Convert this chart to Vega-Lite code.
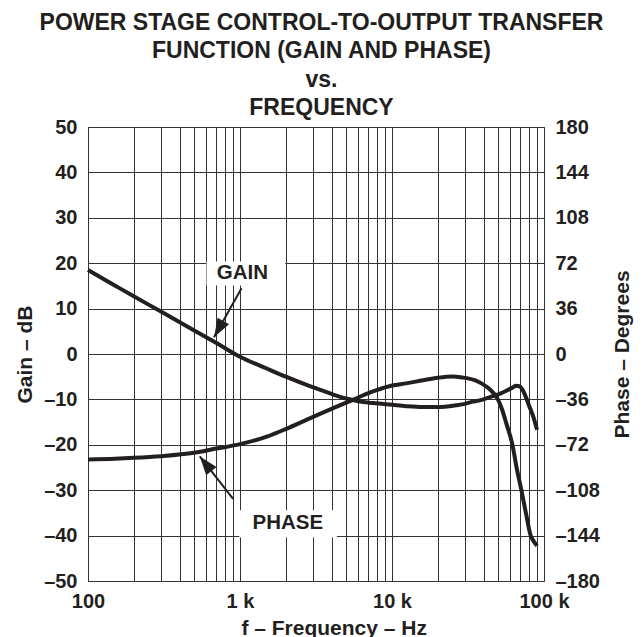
{
  "$schema": "https://vega.github.io/schema/vega-lite/v6.json",
  "width": 456,
  "height": 454,
  "autosize": {"type": "none"},
  "padding": {"left": 88, "top": 127, "right": 99, "bottom": 56},
  "background": "white",
  "title": {
    "text": ["POWER STAGE CONTROL-TO-OUTPUT TRANSFER", "FUNCTION (GAIN AND PHASE)", "vs.", "FREQUENCY"],
    "font": "Liberation Sans",
    "fontSize": 23,
    "fontWeight": "bold",
    "color": "#231f20",
    "lineHeight": 28.3,
    "anchor": "middle",
    "dx": 5.5,
    "offset": -3
  },
  "config": {
    "view": {"stroke": "#333333", "strokeWidth": 1},
    "axis": {
      "labelFont": "Liberation Sans",
      "labelFontSize": 20,
      "labelFontWeight": "bold",
      "labelColor": "#231f20",
      "titleFont": "Liberation Sans",
      "titleFontSize": 21,
      "titleFontWeight": "bold",
      "titleColor": "#231f20",
      "ticks": false,
      "tickSize": 0,
      "domain": false,
      "labelOverlap": false,
      "labelFlush": false,
      "labelBound": false
    }
  },
  "datasets": {
    "gain": [
      {"f": 100, "gain": 18.5}, {"f": 150, "gain": 15.1}, {"f": 200, "gain": 12.7},
      {"f": 300, "gain": 9.4}, {"f": 500, "gain": 5.2}, {"f": 700, "gain": 2.4},
      {"f": 1000, "gain": -0.6}, {"f": 1500, "gain": -3.2}, {"f": 2000, "gain": -5.0},
      {"f": 3000, "gain": -7.3}, {"f": 4000, "gain": -8.8}, {"f": 5000, "gain": -9.8},
      {"f": 6000, "gain": -10.4}, {"f": 7500, "gain": -10.8}, {"f": 10000, "gain": -11.2},
      {"f": 12400, "gain": -11.5}, {"f": 16000, "gain": -11.7}, {"f": 20000, "gain": -11.7},
      {"f": 26500, "gain": -11.3}, {"f": 29000, "gain": -11.1}, {"f": 34000, "gain": -10.5},
      {"f": 39000, "gain": -10.1}, {"f": 44000, "gain": -9.5}, {"f": 50000, "gain": -8.9},
      {"f": 58000, "gain": -7.9}, {"f": 62000, "gain": -7.4}, {"f": 65500, "gain": -7.0},
      {"f": 69000, "gain": -7.1}, {"f": 72000, "gain": -7.8}, {"f": 76000, "gain": -9.5},
      {"f": 80000, "gain": -11.5}, {"f": 85000, "gain": -13.8}, {"f": 90000, "gain": -16.7}
    ],
    "phase": [
      {"f": 100, "phase": -83.6}, {"f": 150, "phase": -83}, {"f": 200, "phase": -82.3},
      {"f": 300, "phase": -81}, {"f": 500, "phase": -78.3}, {"f": 700, "phase": -75},
      {"f": 1000, "phase": -71.5}, {"f": 1500, "phase": -65.5}, {"f": 2000, "phase": -59.5},
      {"f": 3000, "phase": -50}, {"f": 4000, "phase": -43.5}, {"f": 5000, "phase": -38.5},
      {"f": 6000, "phase": -34.5}, {"f": 7000, "phase": -31}, {"f": 8000, "phase": -28.5},
      {"f": 10000, "phase": -25}, {"f": 12400, "phase": -23.3}, {"f": 16000, "phase": -20.8},
      {"f": 20000, "phase": -18.8}, {"f": 24800, "phase": -17.8}, {"f": 29000, "phase": -18.6},
      {"f": 35000, "phase": -20.8}, {"f": 39000, "phase": -23.5}, {"f": 44000, "phase": -28},
      {"f": 48000, "phase": -33}, {"f": 50000, "phase": -36.5}, {"f": 53000, "phase": -44},
      {"f": 56500, "phase": -55}, {"f": 62000, "phase": -72}, {"f": 66000, "phase": -90},
      {"f": 71000, "phase": -108}, {"f": 76000, "phase": -126}, {"f": 81700, "phase": -144},
      {"f": 85000, "phase": -148}, {"f": 90000, "phase": -152}
    ],
    "labels": [
      {"f": 1036, "db": 17.9, "text": "GAIN"},
      {"f": 2064, "db": -37.2, "text": "PHASE"}
    ],
    "boxes": [
      {"f": 602, "f2": 1988, "db": 20.4, "db2": 15.1},
      {"f": 990, "f2": 4338, "db": -34.4, "db2": -40.4}
    ],
    "arrows": [
      {"name": "gain", "f": 1023, "db": 14.5, "f2": 675, "db2": 3.7},
      {"name": "phase", "f": 901, "db": -31.9, "f2": 544, "db2": -22.55}
    ]
  },
  "layer": [
    {
      "layer": [
        {
          "data": {"name": "gain"},
          "mark": {"type": "line", "interpolate": "monotone", "strokeWidth": 4, "color": "#231f20"},
          "encoding": {
            "x": {
              "field": "f", "type": "quantitative",
              "scale": {"type": "log", "domain": [100, 100000]},
              "axis": {
                "values": [100, 200, 300, 400, 500, 600, 700, 800, 900, 1000, 2000, 3000, 4000, 5000, 6000, 7000, 8000, 9000, 10000, 20000, 30000, 40000, 50000, 60000, 70000, 80000, 90000, 100000],
                "grid": true, "gridColor": "#333333", "gridWidth": 1, "gridOpacity": 1,
                "labelExpr": "datum.value == 100 ? '100' : datum.value == 1000 ? '1 k' : datum.value == 10000 ? '10 k' : datum.value == 100000 ? '100 k' : ''",
                "labelPadding": 10.5,
                "labelDx": 3.5,
                "title": "f – Frequency – Hz",
                "titleX": 245.7,
                "titleY": 53,
                "titleBaseline": "alphabetic",
                "titleAlign": "center"
              }
            },
            "y": {
              "field": "gain", "type": "quantitative",
              "scale": {"domain": [-50, 50]},
              "axis": {
                "orient": "left",
                "values": [-50, -40, -30, -20, -10, 0, 10, 20, 30, 40, 50],
                "grid": true, "gridColor": "#333333", "gridWidth": 1, "gridOpacity": 1,
                "labelPadding": 11,
                "labelExpr": "datum.value < 0 ? '–' + abs(datum.value) : datum.value + '\u00a0'",
                "title": "Gain – dB",
                "titleAngle": -90,
                "titleX": -57,
                "titleY": 227,
                "titleBaseline": "alphabetic",
                "titleAlign": "center"
              }
            }
          }
        },
        {
          "data": {"name": "boxes"},
          "mark": {"type": "rect", "fill": "white", "stroke": null},
          "encoding": {
            "x": {"field": "f", "type": "quantitative", "scale": {"type": "log", "domain": [100, 100000]}},
            "x2": {"field": "f2"},
            "y": {"field": "db", "type": "quantitative", "scale": {"domain": [-50, 50]}},
            "y2": {"field": "db2"}
          }
        },
        {
          "data": {"name": "labels"},
          "mark": {"type": "text", "font": "Liberation Sans", "fontSize": 20.5, "fontWeight": "bold", "color": "#231f20", "baseline": "middle", "align": "center"},
          "encoding": {
            "x": {"field": "f", "type": "quantitative", "scale": {"type": "log", "domain": [100, 100000]}},
            "y": {"field": "db", "type": "quantitative", "scale": {"domain": [-50, 50]}},
            "text": {"field": "text"}
          }
        },
        {
          "data": {"name": "arrows"},
          "mark": {"type": "rule", "strokeWidth": 2, "color": "#231f20"},
          "encoding": {
            "x": {"field": "f", "type": "quantitative", "scale": {"type": "log", "domain": [100, 100000]}},
            "x2": {"field": "f2"},
            "y": {"field": "db", "type": "quantitative", "scale": {"domain": [-50, 50]}},
            "y2": {"field": "db2"}
          }
        },
        {
          "data": {"name": "arrows"},
          "transform": [{"filter": "datum.name == 'gain'"}],
          "mark": {"type": "point", "shape": "M0,0L-0.6,1.7L0.6,1.7Z", "filled": true, "size": 484, "angle": 209.8, "color": "#231f20", "opacity": 1, "strokeWidth": 0},
          "encoding": {
            "x": {"field": "f2", "type": "quantitative", "scale": {"type": "log", "domain": [100, 100000]}},
            "y": {"field": "db2", "type": "quantitative", "scale": {"domain": [-50, 50]}}
          }
        },
        {
          "data": {"name": "arrows"},
          "transform": [{"filter": "datum.name == 'phase'"}],
          "mark": {"type": "point", "shape": "M0,0L-0.6,1.7L0.6,1.7Z", "filled": true, "size": 484, "angle": 321.8, "color": "#231f20", "opacity": 1, "strokeWidth": 0},
          "encoding": {
            "x": {"field": "f2", "type": "quantitative", "scale": {"type": "log", "domain": [100, 100000]}},
            "y": {"field": "db2", "type": "quantitative", "scale": {"domain": [-50, 50]}}
          }
        }
      ]
    },
    {
      "data": {"name": "phase"},
      "mark": {"type": "line", "interpolate": "monotone", "strokeWidth": 4, "color": "#231f20"},
      "encoding": {
        "x": {"field": "f", "type": "quantitative", "scale": {"type": "log", "domain": [100, 100000]}},
        "y": {
          "field": "phase", "type": "quantitative",
          "scale": {"domain": [-180, 180]},
          "axis": {
            "orient": "right",
            "values": [-180, -144, -108, -72, -36, 0, 36, 72, 108, 144, 180],
            "grid": false,
            "labelPadding": 11,
            "labelExpr": "datum.value < 0 ? '–' + abs(datum.value) : '' + datum.value",
            "title": "Phase – Degrees",
            "titleAngle": -90,
            "titleX": 84.3,
            "titleY": 227,
            "titleBaseline": "alphabetic",
            "titleAlign": "center"
          }
        }
      }
    }
  ],
  "resolve": {"scale": {"y": "independent"}}
}
